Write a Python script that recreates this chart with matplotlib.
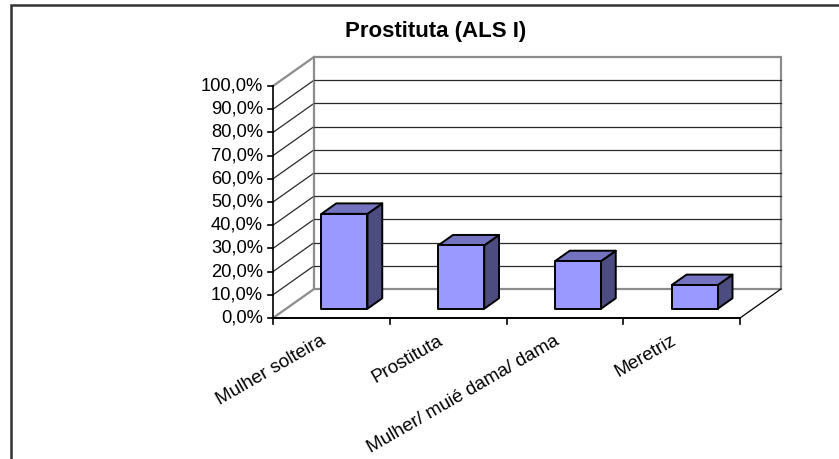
import numpy as np
import matplotlib
matplotlib.use('Agg')
import matplotlib.pyplot as plt
from matplotlib.patches import Polygon, Rectangle

plt.rcParams['font.family'] = ['Liberation Sans', 'DejaVu Sans']

title = 'Prostituta (ALS I)'
categories = ['Mulher solteira', 'Prostituta', 'Mulher/ muié dama/ dama', 'Meretriz']
values = [40.9, 27.3, 20.5, 10.2]
yticks = np.arange(0, 101, 10)

# layout of the plot area in pixels
W, H = 839, 459
x0, y0 = 273, 318          # origin of the front axes
cat_w = 116.75             # pixels per category
pct_h = 2.32               # pixels per percent
dx = 41 / cat_w            # depth offset, in categories
dy = 29 / pct_h            # depth offset, in percent
bar_w = 0.394              # bar width, fraction of category
bar_d = 0.36               # bar depth, fraction of full depth

fig = plt.figure(figsize=(W / 100, H / 100), dpi=100)
ax = fig.add_axes([0, 0, 1, 1])
ax.set_xlim(-x0 / cat_w, (W - x0) / cat_w)
ax.set_ylim((y0 - H) / pct_h, y0 / pct_h)
ax.axis('off')

n = len(categories)
grid_c = '#2a2a2a'
wall_c = '#8c8c8c'

# chart frame
fig.patches.append(Rectangle((11 / W, -0.1), 2, 1.1 - 5 / H, transform=fig.transFigure,
                             fill=False, ec='#333333', lw=1.8))

# side wall, back wall and floor
ax.add_patch(Polygon([(0, 0), (dx, dy), (dx, 100 + dy), (0, 100)], fc='white', ec='none'))
ax.add_patch(Rectangle((dx, dy), n, 100, fc='white', ec=wall_c, lw=1.6, zorder=2))
for v in yticks[1:-1]:
    ax.plot([0, dx], [v, v + dy], color=grid_c, lw=0.9, zorder=1)
    ax.plot([dx, n + dx], [v + dy, v + dy], color=grid_c, lw=0.9, zorder=3)
ax.plot([0, dx], [0, dy], color=wall_c, lw=1.6, zorder=2)
ax.plot([0, dx], [100, 100 + dy], color=wall_c, lw=1.6, zorder=2)
ax.plot([n, n + dx], [0, dy], color='black', lw=0.9, zorder=2)

# value axis
ax.plot([0, 0], [0, 100], color='black', lw=1.2, zorder=4)
tick_len = 5 / cat_w
for v in yticks:
    ax.plot([-tick_len, 0], [v, v], color='black', lw=1.2, zorder=4)
    ax.text(-10 / cat_w, v, f'{v:.1f}%'.replace('.', ','), ha='right', va='center',
            fontsize=13.2)

# category axis
ax.plot([0, n], [0, 0], color='black', lw=1.4, zorder=4)
for i in range(n + 1):
    ax.plot([i, i], [0, -6 / pct_h], color='black', lw=1.2, zorder=4)
for i, lab in enumerate(categories):
    ax.text(i + 0.5 - 11 / cat_w, -14 / pct_h, lab, rotation=30, rotation_mode='anchor',
            ha='right', va='top', fontsize=13.6)

# 3d bars
d0 = (1 - bar_d) / 2
d1 = d0 + bar_d
g = (1 - bar_w) / 2
for i, v in enumerate(values):
    l, r = i + g, i + 1 - g
    fx, fy = d0 * dx, d0 * dy
    bx, by = d1 * dx, d1 * dy
    front = [(l + fx, fy), (r + fx, fy), (r + fx, v + fy), (l + fx, v + fy)]
    top = [(l + fx, v + fy), (r + fx, v + fy), (r + bx, v + by), (l + bx, v + by)]
    side = [(r + fx, fy), (r + bx, by), (r + bx, v + by), (r + fx, v + fy)]
    kw = dict(ec='black', lw=1.4, joinstyle='round', zorder=5)
    ax.add_patch(Polygon(side, fc='#4c4c80', **kw))
    ax.add_patch(Polygon(top, fc='#7373bf', **kw))
    ax.add_patch(Polygon(front, fc='#9999ff', **kw))

ax.text((435.5 - x0) / cat_w, (y0 - 31) / pct_h, title, ha='center', va='center',
        fontsize=16, fontweight='bold')

fig.savefig('out.png', dpi=100)
